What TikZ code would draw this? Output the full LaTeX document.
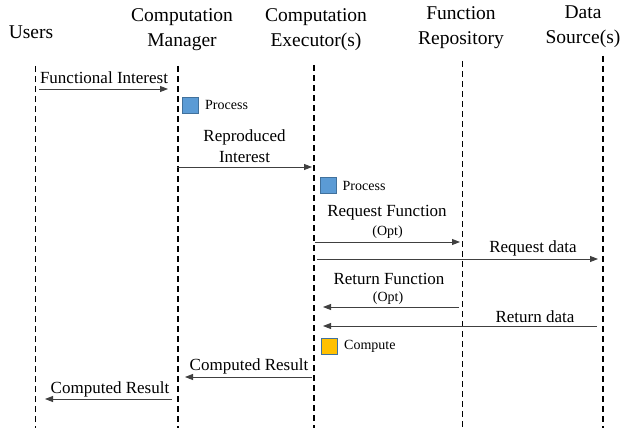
\documentclass[tikz,border=0pt]{standalone}
\usepackage{fontspec}
\setmainfont{Liberation Serif}
\newfontfamily\tnr{Liberation Serif}
\usetikzlibrary{arrows.meta,positioning}

\definecolor{procblue}{HTML}{5B9BD5}
\definecolor{procedge}{HTML}{41719C}
\definecolor{compyellow}{HTML}{FFC000}

\begin{document}
\begin{tikzpicture}[x=1pt, y=-1pt,
    head/.style={align=center, font=\tnr\fontsize{19.5}{25}\selectfont, execute at begin node=\tnr},
    lbl/.style={align=center, inner sep=0pt, font=\tnr\fontsize{17}{21}\selectfont, execute at begin node=\tnr},
    small/.style={inner sep=0pt, font=\tnr\fontsize{14}{16}\selectfont, execute at begin node=\tnr},
    life/.style={line width=1.6pt, dash pattern=on 6pt off 4pt},
    msg/.style={-{Triangle[length=8pt,width=6pt]}, draw=black!75, line width=0.9pt},
    procbox/.style={draw=procedge, line width=1pt, minimum size=16pt, inner sep=0pt}]
    \useasboundingbox (0,0) rectangle (634,428);

    % participants
    \node[head] (usr) at (31,32) {Users};
    \node[head] (mgr) at (182,30) {Computation\\Manager};
    \node[head] (exe) at (316,30) {Computation\\Executor(s)};
    \node[head] (rep) at (461,28) {Function\\Repository};
    \node[head] (dat) at (583,27) {Data\\Source(s)};

    % lifelines
    \foreach \n/\x/\t in {u/35.5/66, m/178/66, e/314/65, r/462.5/61, d/603/56} {
        \coordinate (\n-top) at (\x, \t);
        \coordinate (\n-bot) at (\x, 428);
        \draw[life] (\n-top) -- (\n-bot);
    };

    % message rows
    \foreach \k/\y in {1/89, 2/167, 3/242, 4/259, 5/307, 6/326, 7/377, 8/399} {
        \coordinate (row\k) at (0, \y);
    };

    \draw[msg, shorten <=3.5pt, shorten >=10pt] (u-top |- row1) -- (m-top |- row1);
    \node[lbl] (m1) at (104,78) {Functional Interest};

    \node[procbox, fill=procblue] (p1) at (190.5,105) {};
    \node[small, right=6pt of p1] (p1t) {Process};

    \draw[msg, shorten <=-1pt, shorten >=2pt] (m-top |- row2) -- (e-top |- row2);
    \node[lbl] (m2) at (244.5,146.5) {Reproduced\\Interest};

    \node[procbox, fill=procblue] (p2) at (328,185.5) {};
    \node[small, right=6pt of p2] (p2t) {Process};

    \draw[msg, shorten <=1pt, shorten >=2.5pt] (e-top |- row3) -- (r-top |- row3);
    \node[lbl] (m3) at (387,213) {Request Function};
    \node[small] (m3o) at (387.5,232) {(Opt)};

    \draw[msg, shorten <=3pt, shorten >=5pt] (e-top |- row4) -- (d-top |- row4);
    \node[lbl] (m4) at (533,248) {Request data};

    \draw[msg, shorten <=3.5pt, shorten >=9pt] (r-top |- row5) -- (e-top |- row5);
    \node[lbl] (m5) at (389,279) {Return Function};
    \node[small] (m5o) at (388,298) {(Opt)};

    \draw[msg, shorten <=6pt, shorten >=9pt] (d-top |- row6) -- (e-top |- row6);
    \node[lbl] (m6) at (535,317) {Return data};

    \node[procbox, fill=compyellow] (p3) at (329.5,346.5) {};
    \node[small, right=6pt of p3] (p3t) {Compute};

    \draw[msg, shorten <=2pt, shorten >=7pt] (e-top |- row7) -- (m-top |- row7);
    \node[lbl] (m7) at (249,366) {Computed Result};

    \draw[msg, shorten <=6pt, shorten >=9.5pt] (m-top |- row8) -- (u-top |- row8);
    \node[lbl] (m8) at (110,389) {Computed Result};
\end{tikzpicture}
\end{document}
